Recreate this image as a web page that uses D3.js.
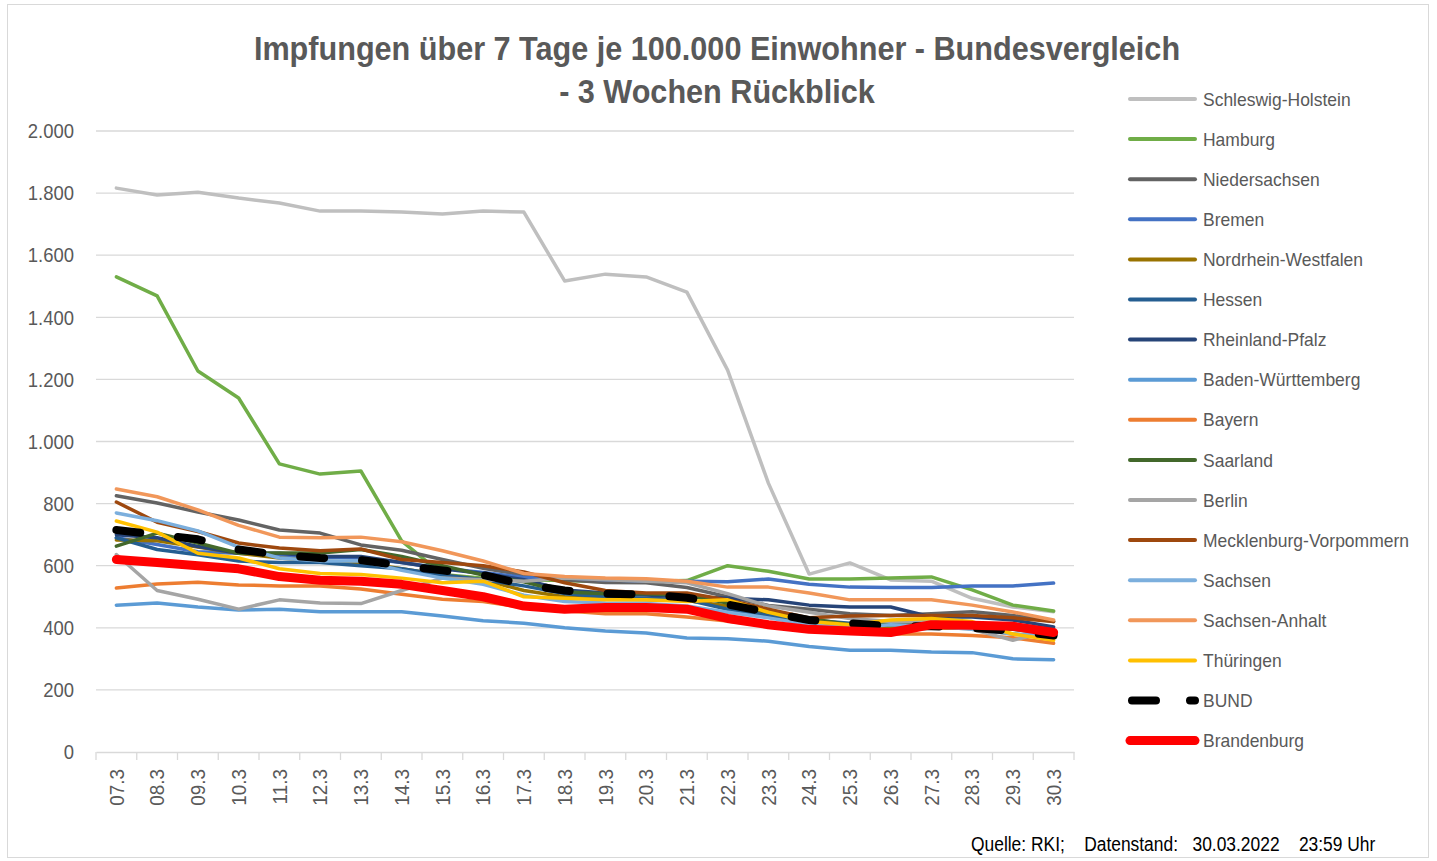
<!DOCTYPE html>
<html>
<head>
<meta charset="utf-8">
<script src="https://cdn.jsdelivr.net/npm/d3@7"></script>
<style>
  body { margin: 0; background: #fff; }
  svg { display: block; font-family: "Liberation Sans", Arial, sans-serif; }
</style>
</head>
<body>
<svg width="1437" height="861"></svg>
<script>
// Dates (x categories)
const dates = ["07.3","08.3","09.3","10.3","11.3","12.3","13.3","14.3","15.3","16.3","17.3","18.3",
               "19.3","20.3","21.3","22.3","23.3","24.3","25.3","26.3","27.3","28.3","29.3","30.3"];

const yTicks = [0, 200, 400, 600, 800, 1000, 1200, 1400, 1600, 1800, 2000];

// Series values per state
const schleswigHolstein = [1816,1794,1803,1784,1768,1742,1742,1739,1733,1742,1739,1517,1539,1530,1481,1230,866,573,609,554,550,495,467,452];
const hamburg           = [1530,1469,1227,1140,928,895,905,680,572,560,555,552,548,550,552,600,582,557,557,560,564,522,473,454];
const niedersachsen     = [825,802,773,747,715,705,667,650,620,592,570,555,546,545,530,500,472,460,445,440,445,452,440,420];
const bremen            = [690,668,645,640,630,628,625,610,592,578,562,560,555,550,550,548,557,540,531,530,530,535,535,544];
const nrw               = [683,680,660,640,625,615,610,590,570,555,520,500,492,490,488,470,440,420,405,400,400,398,380,368];
const hessen            = [690,652,635,615,610,610,600,590,570,555,535,510,500,495,490,460,440,425,415,415,420,415,410,395];
const rheinlandPfalz    = [700,690,662,640,640,630,630,610,590,575,555,522,512,506,500,495,490,473,467,467,435,435,425,403];
const badenWuerttemberg = [473,480,467,457,460,452,452,452,438,423,415,400,390,383,367,365,357,340,328,328,322,320,300,297];
const bayern            = [528,541,547,538,535,535,525,508,492,485,465,455,445,445,435,422,405,392,385,380,380,375,368,350];
const saarland          = [663,705,673,640,641,641,652,630,600,570,548,515,510,510,505,480,450,430,410,410,415,400,395,380];
const berlin            = [636,520,492,460,490,480,478,520,560,555,550,560,555,550,545,510,470,450,430,420,420,395,360,392];
const mecklenburgVP     = [805,740,710,673,657,648,654,620,610,600,580,545,520,512,512,490,460,432,438,440,440,440,432,420];
const sachsen           = [770,745,712,660,625,615,615,585,560,540,505,485,480,478,470,450,432,410,400,410,405,395,380,375];
const sachsenAnhalt     = [847,822,780,730,692,690,692,677,648,615,575,565,560,558,550,531,531,512,490,490,490,473,451,425];
const thueringen        = [744,708,640,625,590,575,572,560,545,550,500,495,490,490,485,490,450,420,410,425,430,420,380,360];
const bund              = [715,700,685,652,635,625,618,600,585,570,540,520,510,507,497,475,450,425,415,405,405,400,390,375];
const brandenburg       = [620,610,600,590,565,553,550,540,520,500,470,460,465,465,460,430,410,395,390,385,410,408,405,385];

const series = [
  {name: "Schleswig-Holstein",     values: schleswigHolstein, color: "#BFBFBF", width: 3.5},
  {name: "Hamburg",                values: hamburg,           color: "#70AD47", width: 3.5},
  {name: "Niedersachsen",          values: niedersachsen,     color: "#636363", width: 3.5},
  {name: "Bremen",                 values: bremen,            color: "#4472C4", width: 3.5},
  {name: "Nordrhein-Westfalen",    values: nrw,               color: "#997300", width: 3.5},
  {name: "Hessen",                 values: hessen,            color: "#255E91", width: 3.5},
  {name: "Rheinland-Pfalz",        values: rheinlandPfalz,    color: "#264478", width: 3.5},
  {name: "Baden-Württemberg",      values: badenWuerttemberg, color: "#5B9BD5", width: 3.5},
  {name: "Bayern",                 values: bayern,            color: "#ED7D31", width: 3.5},
  {name: "Saarland",               values: saarland,          color: "#43682B", width: 3.5},
  {name: "Berlin",                 values: berlin,            color: "#A5A5A5", width: 3.5},
  {name: "Mecklenburg-Vorpommern", values: mecklenburgVP,     color: "#9E480E", width: 3.5},
  {name: "Sachsen",                values: sachsen,           color: "#7CAFDD", width: 3.5},
  {name: "Sachsen-Anhalt",         values: sachsenAnhalt,     color: "#F1975A", width: 3.5},
  {name: "Thüringen",              values: thueringen,        color: "#FFC000", width: 3.5},
  {name: "BUND",                   values: bund,              color: "#000000", width: 8, dash: "24 38"},
  {name: "Brandenburg",            values: brandenburg,       color: "#FF0000", width: 9}
];

const svg = d3.select("svg");
const textColor = "#595959";

// squeeze text horizontally to mimic a narrow font
function condense(sel, factor) {
  sel.each(function() {
    const w = this.getComputedTextLength();
    d3.select(this).attr("textLength", w * factor).attr("lengthAdjust", "spacingAndGlyphs");
  });
}

// outer frame
svg.append("rect").attr("x", 7.5).attr("y", 4.5).attr("width", 1421).attr("height", 853)
  .attr("fill", "none").attr("stroke", "#D9D9D9").attr("stroke-width", 1);

const x = d3.scaleBand().domain(dates).range([96, 1074]);
const y = d3.scaleLinear().domain([0, 2000]).range([752, 131]);

const de = d3.formatLocale({decimal: ",", thousands: ".", grouping: [3], currency: ["", " €"]});
const fmt = de.format(",");

// gridlines
svg.append("g").selectAll("line").data(yTicks.filter(d => d > 0)).join("line")
  .attr("x1", 96).attr("x2", 1074)
  .attr("y1", d => y(d)).attr("y2", d => y(d))
  .attr("stroke", "#D9D9D9").attr("stroke-width", 1.3);

// y axis
const yAxis = svg.append("g").attr("transform", "translate(96,0)")
  .call(d3.axisLeft(y).tickValues(yTicks).tickFormat(fmt).tickSize(0).tickPadding(22));
yAxis.select(".domain").remove();
yAxis.selectAll("text").attr("fill", textColor).attr("font-size", 21)
  .attr("font-family", "Liberation Sans, Arial, sans-serif");
condense(yAxis.selectAll("text"), 0.88);

// x axis
const xAxis = svg.append("g").attr("transform", "translate(0,752)")
  .call(d3.axisBottom(x).tickSize(0).tickPadding(0));
xAxis.select(".domain").attr("stroke", "#D9D9D9").attr("stroke-width", 1.3);
xAxis.selectAll("text")
  .attr("fill", textColor).attr("font-size", 21)
  .attr("font-family", "Liberation Sans, Arial, sans-serif")
  .attr("transform", "rotate(-90)")
  .attr("text-anchor", "end").attr("dy", "0.35em").attr("x", -17).attr("y", 0);
condense(xAxis.selectAll("text"), 0.9);
// tick marks between categories
svg.append("g").selectAll("line").data(dates.concat(["end"])).join("line")
  .attr("x1", (d, i) => 96 + i * x.bandwidth()).attr("x2", (d, i) => 96 + i * x.bandwidth())
  .attr("y1", 752).attr("y2", 760)
  .attr("stroke", "#D9D9D9").attr("stroke-width", 1.3);

// lines
const line = d3.line()
  .x((d, i) => x(dates[i]) + x.bandwidth() / 2)
  .y(d => y(d));

svg.append("g").selectAll("path").data(series).join("path")
  .attr("d", d => line(d.values))
  .attr("fill", "none")
  .attr("stroke", d => d.color)
  .attr("stroke-width", d => d.width)
  .attr("stroke-linejoin", "round")
  .attr("stroke-linecap", "round")
  .attr("stroke-dasharray", d => d.dash || null);

// title
const title = svg.append("text").attr("x", 717).attr("y", 60)
  .attr("text-anchor", "middle").attr("fill", textColor)
  .attr("font-size", 34).attr("font-weight", "bold");
title.append("tspan").attr("x", 717).text("Impfungen über 7 Tage je 100.000 Einwohner - Bundesvergleich");
title.append("tspan").attr("x", 717).attr("dy", 43).text("- 3 Wochen Rückblick");
condense(title.selectAll("tspan"), 0.9);

// legend
const legend = svg.append("g").selectAll("g").data(series).join("g")
  .attr("transform", (d, i) => `translate(1128,${99 + i * 40.1})`);
legend.append("line")
  .attr("x1", d => d.dash ? 4 : 2).attr("x2", 67)
  .attr("y1", 0).attr("y2", 0)
  .attr("stroke", d => d.color)
  .attr("stroke-width", d => d.width === 3.5 ? 4 : d.width)
  .attr("stroke-linecap", "round")
  .attr("stroke-dasharray", d => d.dash ? "24 34" : null);
const legendText = legend.append("text")
  .attr("x", 75).attr("y", 0).attr("dy", "0.35em")
  .attr("fill", textColor).attr("font-size", 19)
  .text(d => d.name);
condense(legendText, 0.92);

// source note
const note = svg.append("text").attr("x", 971).attr("y", 851)
  .attr("fill", "#000").attr("font-size", 20)
  .attr("xml:space", "preserve")
  .text("Quelle: RKI;    Datenstand:   30.03.2022    23:59 Uhr");
condense(note, 0.87);
</script>
</body>
</html>
